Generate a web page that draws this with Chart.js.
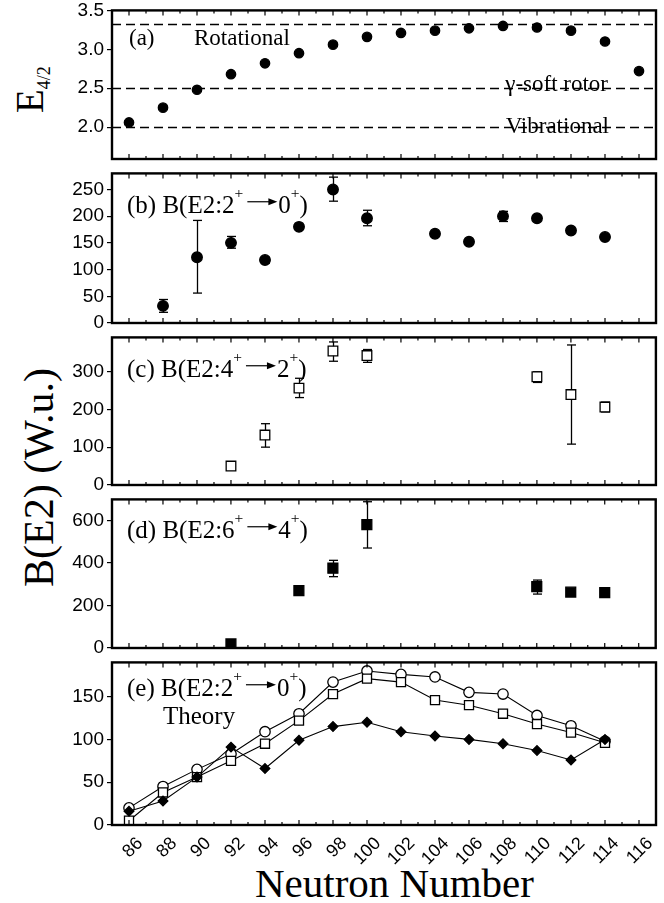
<!DOCTYPE html>
<html>
<head>
<meta charset="utf-8">
<title>E4/2 and B(E2) systematics vs neutron number</title>
<script src="https://cdn.jsdelivr.net/npm/chart.js@4.4.1/dist/chart.umd.min.js"></script>
<style>
  html, body { margin: 0; padding: 0; background: #fff; }
  #page { position: relative; width: 664px; height: 903px; overflow: hidden; }
  #page canvas { position: absolute; left: 0; }
  .title { position: absolute; font-family: "Liberation Serif", "Times New Roman", serif; color: #000; white-space: nowrap; }
  .rot { transform-origin: 0 0; transform: rotate(-90deg); }
</style>
</head>
<body>
<div id="page">
  <div class="title rot" style="left:10px;top:113px;font-size:39px;line-height:39px">E<span style="font-size:18px;line-height:18px;position:relative;top:7px">4/2</span></div>
  <div class="title rot" style="left:18px;top:587px;font-size:42px;line-height:42px">B(E2) (W.u.)</div>
  <div class="title" style="left:255px;top:863px;font-size:41px;line-height:41px">Neutron Number</div>
</div>
<script>
// shared x axis
const neutrons = [86, 88, 90, 92, 94, 96, 98, 100, 102, 104, 106, 108, 110, 112, 114, 116];

// (a) E(4+)/E(2+)
const e42 = [2.06, 2.25, 2.48, 2.68, 2.82, 2.95, 3.06, 3.16, 3.21, 3.24, 3.27, 3.30, 3.28, 3.24, 3.10, 2.72];
const e42Limits = [2.0, 2.5, 3.33]; // vibrational, gamma-soft, rotational
const e42Ticks = [2.0, 2.5, 3.0, 3.5];

// (b) B(E2: 2+ -> 0+)
const b20   = [null, 32, 123, 150, 118, 180, 250, 196, null, 167, 152, 200, 196, 173, 161, null];
const b20Lo = [null, 20,  56, 140, 112, null, 228, 182, null, null, null, 190, null, null, null, null];
const b20Hi = [null, 44, 192, 162, 123, null, 273, 211, null, null, null, 209, null, null, null, null];
const b20Ticks = [0, 50, 100, 150, 200, 250];

// (c) B(E2: 4+ -> 2+)
const b42   = [null, null, null, 50, 132, 256, 354, 342, null, null, null, null, 286, 239, 206, null];
const b42Lo = [null, null, null, null, 100, 231, 327, 324, null, null, null, null, 271, 108, 193, null];
const b42Hi = [null, null, null, null, 162, 282, 378, 358, null, null, null, null, 299, 370, 219, null];
const b42Ticks = [0, 100, 200, 300];

// (d) B(E2: 6+ -> 4+)
const b64   = [null, null, null, 19, null, 270, 376, 581, null, null, null, null, 289, 263, 261, null];
const b64Lo = [null, null, null, null, null, null, 336, 471, null, null, null, null, 254, null, null, null];
const b64Hi = [null, null, null, null, null, null, 413, 689, null, null, null, null, 320, null, null, null];
const b64Ticks = [0, 200, 400, 600];

// (e) theory B(E2: 2+ -> 0+)
const thCircle  = [20, 45, 65, 83, 109, 130, 167, 180, 176, 173, 155, 153, 128, 116, 98, null];
const thSquare  = [5, 38, 56, 75, 95, 122, 153, 171, 167, 146, 140, 130, 118, 108, 96, null];
const thDiamond = [16, 28, 56, 91, 66, 99, 115, 120, 109, 104, 100, 95, 87, 76, 100, null];
const thTicks = [0, 50, 100, 150];

const PAD = 14;
const PLOT_LEFT = 112;
const PLOT_RIGHT = 656;
const sans = '"Liberation Sans", Arial, sans-serif';
const page = document.getElementById('page');

function pts(ys) {
  return neutrons.map((x, i) => ({ x: x, y: ys[i] })).filter(p => p.y !== null);
}

function marks(ys, style, r, fill, extra) {
  return Object.assign({
    data: pts(ys), showLine: false, pointStyle: style, pointRadius: r,
    pointBackgroundColor: fill, pointBorderColor: '#000', pointBorderWidth: 1.3,
    borderColor: '#000', borderWidth: 1.1, tension: 0
  }, extra || {});
}

function transition(letter, from, to) {
  return [{ t: '(' + letter + ') ' }, { t: 'B(E2:' + from }, { t: '+', sup: true }, { arrow: true },
          { t: to }, { t: '+', sup: true }, { t: ')' }];
}

function line(ctx, x1, y1, x2, y2) {
  ctx.beginPath(); ctx.moveTo(x1, y1); ctx.lineTo(x2, y2); ctx.stroke();
}

function drawRich(ctx, x, y, parts, size, align) {
  ctx.fillStyle = '#000';
  ctx.strokeStyle = '#000';
  ctx.textBaseline = 'alphabetic';
  ctx.textAlign = 'left';
  if (align === 'right') {
    ctx.font = size + 'px "Liberation Serif"';
    x -= ctx.measureText(parts.map(p => p.t).join('')).width;
  }
  parts.forEach(p => {
    if (p.arrow) {
      const ay = y - size * 0.45;
      ctx.lineWidth = 1.2;
      line(ctx, x + 4, ay, x + 27, ay);
      ctx.beginPath();
      ctx.moveTo(x + 34, ay); ctx.lineTo(x + 25, ay - 3.5); ctx.lineTo(x + 25, ay + 3.5);
      ctx.closePath(); ctx.fill();
      x += 35;
      return;
    }
    const fs = p.sup ? size * 0.62 : size;
    ctx.font = fs + 'px "Liberation Serif"';
    ctx.fillText(p.t, x, p.sup ? y - size * 0.62 : y);
    x += ctx.measureText(p.t).width;
  });
}

const panels = [
  {
    top: 10, bottom: 173, min: 1.59, max: 3.5, ticks: e42Ticks, dec: 1, levels: e42Limits,
    datasets: [marks(e42, 'circle', 4.7, '#000')],
    notes: [
      { x: 129, y: 45, size: 23, parts: [{ t: '(a)' }] },
      { x: 194, y: 45, size: 23, parts: [{ t: 'Rotational' }] },
      { x: 608, y: 91, size: 23, align: 'right', parts: [{ t: 'γ-soft rotor' }] },
      { x: 609, y: 133, size: 23, align: 'right', parts: [{ t: 'Vibrational' }] }
    ]
  },
  {
    top: 173, bottom: 337, min: 0, max: 280, ticks: b20Ticks, dec: 0,
    err: [{ lo: b20Lo, hi: b20Hi }],
    datasets: [marks(b20, 'circle', 5.3, '#000')],
    notes: [{ x: 127, y: 213, size: 25, parts: transition('b', '2', '0') }]
  },
  {
    top: 337, bottom: 499, min: 0, max: 390, ticks: b42Ticks, dec: 0,
    err: [{ lo: b42Lo, hi: b42Hi }],
    datasets: [marks(b42, 'rect', 6.8, '#fff')],
    notes: [{ x: 127, y: 377, size: 25, parts: transition('c', '4', '2') }]
  },
  {
    top: 499, bottom: 662, min: 0, max: 700, ticks: b64Ticks, dec: 0,
    err: [{ lo: b64Lo, hi: b64Hi }],
    datasets: [marks(b64, 'rect', 7, '#000')],
    notes: [{ x: 127, y: 538, size: 25, parts: transition('d', '6', '4') }]
  },
  {
    top: 662, bottom: 825, min: 0, max: 190, ticks: thTicks, dec: 0, last: true,
    datasets: [
      marks(thDiamond, 'rectRot', 4.8, '#000', { showLine: true }),
      marks(thSquare, 'rect', 6.4, '#fff', { showLine: true }),
      marks(thCircle, 'circle', 5.2, '#fff', { showLine: true })
    ],
    notes: [
      { x: 127, y: 696, size: 25, parts: transition('e', '2', '0') },
      { x: 163, y: 724, size: 25, parts: [{ t: 'Theory' }] }
    ]
  }
];

function framePlugin(p, canvasTop) {
  return {
    id: 'frame',
    beforeDatasetsDraw(chart) {
      const { ctx, chartArea: a } = chart;
      const xs = chart.scales.x, ys = chart.scales.y;
      ctx.save();
      ctx.strokeStyle = '#000';
      ctx.lineWidth = 1.3;
      if (p.levels) {
        ctx.setLineDash([9, 5]);
        p.levels.forEach(l => {
          const py = Math.round(ys.getPixelForValue(l)) + 0.5;
          line(ctx, a.left, py, a.right, py);
        });
        ctx.setLineDash([]);
      }
      (p.err || []).forEach(e => {
        neutrons.forEach((n, i) => {
          if (e.lo[i] === null) return;
          const px = Math.round(xs.getPixelForValue(n)) + 0.5;
          const y1 = ys.getPixelForValue(e.lo[i]);
          const y2 = ys.getPixelForValue(e.hi[i]);
          line(ctx, px, y1, px, y2);
          line(ctx, px - 4.5, y1, px + 4.5, y1);
          line(ctx, px - 4.5, y2, px + 4.5, y2);
        });
      });
      ctx.restore();
    },
    afterDraw(chart) {
      const { ctx, chartArea: a } = chart;
      const xs = chart.scales.x;
      ctx.save();
      ctx.strokeStyle = '#000';
      ctx.lineWidth = 1.2;
      for (let v = 85; v <= 117; v++) {
        const px = xs.getPixelForValue(v);
        const len = v % 2 === 0 ? 5 : 3;
        line(ctx, px, a.bottom, px, a.bottom - len);
        line(ctx, px, a.top, px, a.top + len);
      }
      ctx.lineWidth = 2.4;
      ctx.strokeRect(a.left, a.top, a.right - a.left, a.bottom - a.top);
      p.notes.forEach(n => drawRich(ctx, n.x, n.y - canvasTop, n.parts, n.size, n.align));
      ctx.restore();
    }
  };
}

panels.forEach(p => {
  const canvas = document.createElement('canvas');
  const canvasTop = p.top - PAD;
  const height = p.last ? 903 - canvasTop : p.bottom - p.top + 2 * PAD;
  canvas.width = 664;
  canvas.height = height;
  canvas.style.top = canvasTop + 'px';
  page.appendChild(canvas);

  new Chart(canvas, {
    type: 'line',
    data: { datasets: p.datasets },
    options: {
      responsive: false,
      animation: false,
      events: [],
      layout: { padding: { left: 0, right: 664 - PLOT_RIGHT, top: PAD, bottom: p.last ? 0 : PAD } },
      plugins: { legend: { display: false }, tooltip: { enabled: false } },
      scales: {
        x: {
          type: 'linear', min: 85, max: 117, display: !!p.last,
          grid: { display: false, drawTicks: false },
          border: { display: false },
          afterBuildTicks: s => { s.ticks = neutrons.map(v => ({ value: v })); },
          afterFit: s => { s.height = height - PAD - (p.bottom - p.top); },
          ticks: {
            font: { family: sans, size: 18 }, color: '#000',
            minRotation: 45, maxRotation: 45, autoSkip: false,
            padding: 8, labelOffset: 11, callback: v => String(v)
          }
        },
        y: {
          min: p.min, max: p.max,
          grid: { drawOnChartArea: false, drawTicks: true, tickLength: 5, lineWidth: 1.2, color: '#000' },
          border: { display: false },
          afterBuildTicks: s => { s.ticks = p.ticks.map(v => ({ value: v })); },
          afterFit: s => { s.width = PLOT_LEFT; },
          ticks: { font: { family: sans, size: 19 }, color: '#000', padding: 3, callback: v => v.toFixed(p.dec) }
        }
      }
    },
    plugins: [framePlugin(p, canvasTop)]
  });
});
</script>
</body>
</html>
